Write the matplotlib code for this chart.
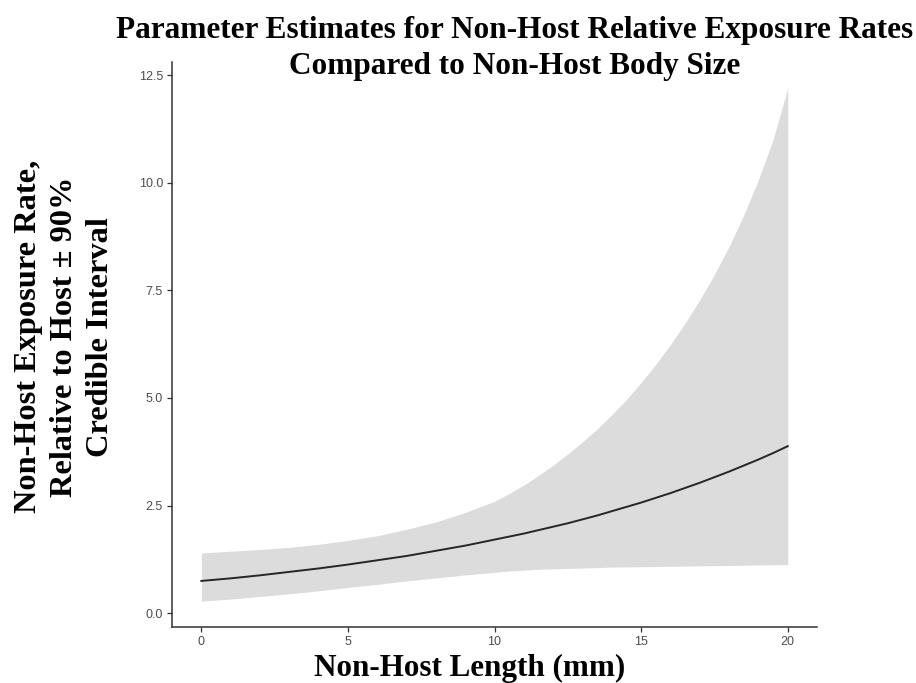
import matplotlib
matplotlib.use("Agg")
import matplotlib.pyplot as plt
from matplotlib.ticker import FormatStrFormatter

# non-host length (mm) and posterior estimates
length_mm = [0, 1, 2, 3, 4, 5, 6, 7, 8, 9, 10,
             10.5, 11, 11.5, 12, 12.5, 13, 13.5, 14, 14.5, 15,
             15.5, 16, 16.5, 17, 17.5, 18, 18.5, 19, 19.5, 20]
rate_mean = [0.75, 0.81, 0.88, 0.96, 1.04, 1.13, 1.23, 1.33, 1.45, 1.57, 1.71,
             1.78, 1.85, 1.93, 2.01, 2.09, 2.18, 2.27, 2.37, 2.47, 2.57,
             2.68, 2.79, 2.91, 3.03, 3.16, 3.29, 3.43, 3.57, 3.72, 3.88]
rate_lower = [0.28, 0.33, 0.39, 0.45, 0.52, 0.60, 0.67, 0.75, 0.82, 0.89, 0.95,
              0.98, 1.00, 1.02, 1.03, 1.04, 1.05, 1.06, 1.07, 1.075, 1.08,
              1.085, 1.09, 1.095, 1.10, 1.105, 1.11, 1.115, 1.12, 1.125, 1.13]
rate_upper = [1.40, 1.44, 1.48, 1.53, 1.60, 1.69, 1.80, 1.95, 2.12, 2.34, 2.60,
              2.78, 2.98, 3.20, 3.44, 3.70, 3.98, 4.28, 4.61, 4.97, 5.36,
              5.78, 6.24, 6.74, 7.28, 7.87, 8.52, 9.25, 10.07, 11.0, 12.2]

x_ticks = [0, 5, 10, 15, 20]
y_ticks = [0.0, 2.5, 5.0, 7.5, 10.0, 12.5]

title_lines = ["Parameter Estimates for Non-Host Relative Exposure Rates",
               "Compared to Non-Host Body Size"]
xlab = "Non-Host Length (mm)"
ylab = "Non-Host Exposure Rate,\nRelative to Host \u00b1 90%\nCredible Interval"

fig = plt.figure(figsize=(9.16, 6.83), dpi=100)
ax = fig.add_axes([0.1878, 0.082, 0.7042, 0.827])

ax.fill_between(length_mm, rate_lower, rate_upper, color="#dcdcdc", linewidth=0)
ax.plot(length_mm, rate_mean, color="#262626", linewidth=1.4)

ax.set_xlim(-1, 21)
ax.set_ylim(-0.32, 12.8)
ax.set_xticks(x_ticks)
ax.set_yticks(y_ticks)
ax.yaxis.set_major_formatter(FormatStrFormatter("%.1f"))

for side in ["top", "right"]:
    ax.spines[side].set_visible(False)
for side in ["left", "bottom"]:
    ax.spines[side].set_color("#333333")
    ax.spines[side].set_linewidth(1.1)
ax.tick_params(colors="#333333", labelcolor="#4d4d4d", labelsize=9,
               length=3.5, width=0.9, pad=3)
for lbl in ax.get_xticklabels() + ax.get_yticklabels():
    lbl.set_family("Liberation Sans")

serif = {"family": "Liberation Serif", "weight": "bold"}
# title drawn one line at a time so the second line keeps clear of the 12.5 label
fig.text(0.562, 0.9444, title_lines[0], ha="center", va="baseline",
         fontsize=22.5, **serif)
fig.text(0.562, 0.8920, title_lines[1], ha="center", va="baseline",
         fontsize=22.5, **serif)
fig.text(0.513, 0.0, xlab, ha="center", va="bottom", fontsize=22.4, **serif)
fig.text(0.0705, 0.507, ylab, ha="center", va="center", rotation=90,
         fontsize=23.3, linespacing=1.33, **serif)

fig.savefig("out.png", dpi=100, facecolor="white")
